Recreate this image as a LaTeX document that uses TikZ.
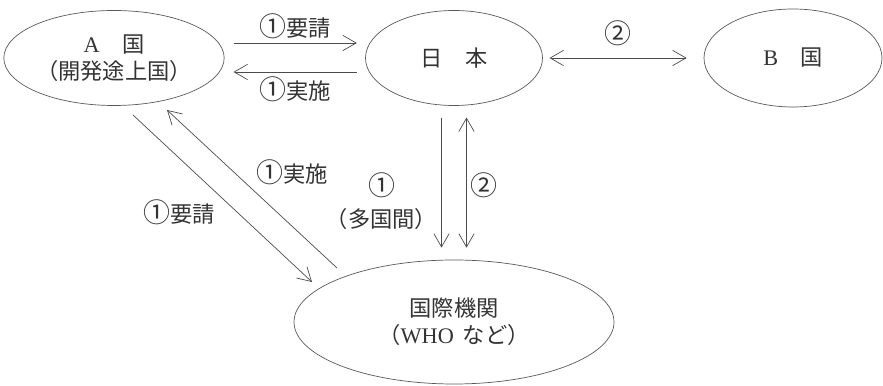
\documentclass[tikz,border=0pt]{standalone}
\usepackage{fontspec}
\setmainfont{Noto Sans CJK JP}
\newfontfamily\latn{Liberation Serif}
\usetikzlibrary{shapes.geometric, arrows.meta}

\newcommand{\cnum}[1]{{\fontsize{23}{23}\selectfont #1}}

\tikzset{
  land/.style={ellipse, draw=black!65, line width=0.6pt, text=black!80, align=center, inner sep=0pt},
  arr/.style={->, draw=black!70, line width=0.6pt},
  darr/.style={<->, draw=black!70, line width=0.6pt},
  lbl/.style={text=black!80}
}

\begin{document}
\begin{tikzpicture}[>={Straight Barb[length=4mm,width=4.6mm]}, font=\fontsize{19}{23}\selectfont]
\useasboundingbox (0,0) rectangle (26.49,11.58);

%Nodes
\node (A) at (3.42,9.84) [land, minimum width=5.34cm, minimum height=2.85cm] {{\latn A}　国\\（開発途上国）};
\node (J) at (13.62,9.84) [land, minimum width=5.31cm, minimum height=2.85cm] {日　本};
\node (B) at (23.79,9.84) [land, minimum width=5.34cm, minimum height=2.94cm] {{\latn B}　国};
\node (I) at (13.62,1.92) [land, minimum width=9.6cm, minimum height=3.72cm] {国際機関\\（{\latn WHO}\hspace{0.4em}など）};

%A and Japan
\draw[arr] ([shift={(2.7mm,4.5mm)}]A.east) -- ([shift={(-2.5mm,4.5mm)}]J.west) node[midway, above, lbl] {\cnum{①}要請};
\draw[arr] ([shift={(-2.5mm,-4.2mm)}]J.west) -- ([shift={(2.7mm,-4.2mm)}]A.east) node[midway, below, lbl] {\cnum{①}実施};

%Japan and B
\draw[darr] ([xshift=2mm]J.east) -- ([xshift=-5.1mm]B.west) node[midway, above, yshift=2.5mm, lbl] {\cnum{②}};

%Japan and the agency
\draw[arr] ([shift={(-3.75mm,-3.5mm)}]J.south) -- ([shift={(-3.75mm,3.6mm)}]I.north) node[pos=0.64, left, lbl, align=center] {\cnum{①}\\[1.5mm]（多国間）};
\draw[darr] ([shift={(3.75mm,-3.5mm)}]J.south) -- ([shift={(3.75mm,3.6mm)}]I.north) node[pos=0.52, right, lbl] {\cnum{②}};

%A and the agency
\draw[arr] ([shift={(0.57,-1.71)}]A.center) -- ([shift={(-4.26,1.2)}]I.center) node[pos=0.48, below left, lbl] {\cnum{①}要請};
\draw[arr] ([shift={(-3.51,1.62)}]I.center) -- ([shift={(1.59,-1.56)}]A.center) node[midway, above right, lbl] {\cnum{①}実施};

\end{tikzpicture}
\end{document}
